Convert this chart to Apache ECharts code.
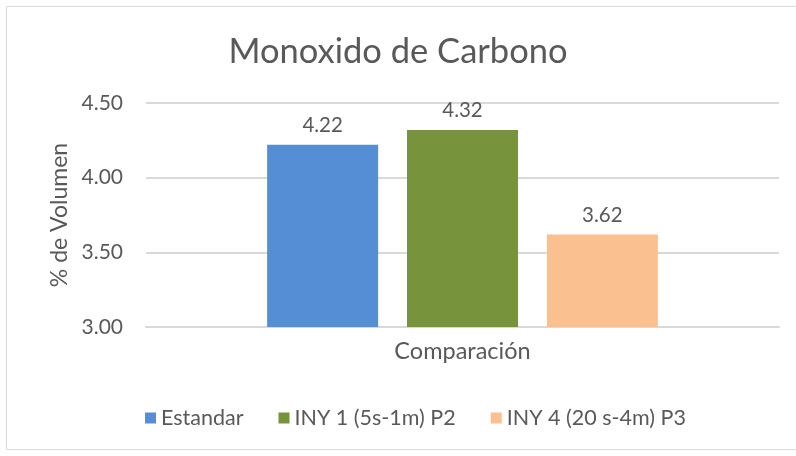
<!DOCTYPE html>
<html>
<head>
<meta charset="utf-8">
<script src="https://cdn.jsdelivr.net/npm/echarts@6/dist/echarts.min.js"></script>
<style>
html,body{margin:0;padding:0;background:#fff;}
#chart{width:796px;height:456px;}
</style>
</head>
<body>
<div id="chart"></div>
<script>
// Carbon monoxide readings (% volume) for each test condition
const categories = ['Comparación'];
const seriesNames = ['Estandar', 'INY 1 (5s-1m) P2', 'INY 4 (20 s-4m) P3'];
const estandar = [4.22];
const iny1 = [4.32];
const iny4 = [3.62];
const yTicks = { min: 3.0, max: 4.5, step: 0.5 };

const colors = ['#558ED5', '#77933C', '#FAC090'];
const FONT = 'Lato, "Open Sans", sans-serif';
const TXT = '#595959';

const chart = echarts.init(document.getElementById('chart'), null, { renderer: 'canvas' });

const valuesList = [estandar, iny1, iny4];
const series = seriesNames.map((name, i) => ({
  name,
  type: 'bar',
  data: valuesList[i],
  barWidth: 111,
  barGap: '26%',
  itemStyle: { color: colors[i] },
  label: {
    show: true,
    position: 'top',
    distance: 9,
    formatter: p => p.value.toFixed(2),
    color: TXT,
    fontFamily: FONT,
    fontSize: 20.5
  }
}));

chart.setOption({
  animation: false,
  backgroundColor: '#fff',
  title: {
    text: 'Monoxido de Carbono',
    left: 'center',
    top: 29,
    textStyle: { color: TXT, fontFamily: FONT, fontSize: 34.5, fontWeight: 'normal' }
  },
  graphic: [{
    type: 'rect',
    shape: { x: 6.5, y: 6.5, width: 800, height: 443 },
    style: { fill: 'none', stroke: '#d9d9d9', lineWidth: 1 },
    silent: true
  }],
  legend: {
    bottom: 22,
    left: 140,
    itemWidth: 11,
    itemHeight: 11,
    itemGap: 35,
    icon: 'rect',
    textStyle: { color: TXT, fontFamily: FONT, fontSize: 21.5 },
    data: seriesNames
  },
  grid: { left: 146, right: 17, top: 103, bottom: 129, containLabel: false },
  xAxis: {
    type: 'category',
    data: categories,
    axisLine: { show: true, lineStyle: { color: '#d9d9d9', width: 2 } },
    axisTick: { show: false },
    axisLabel: { color: TXT, fontFamily: FONT, fontSize: 23.5, margin: 12 }
  },
  yAxis: {
    type: 'value',
    min: yTicks.min,
    max: yTicks.max,
    interval: yTicks.step,
    name: '% de Volumen',
    nameLocation: 'middle',
    nameGap: 75,
    nameTextStyle: { color: TXT, fontFamily: FONT, fontSize: 23 },
    axisLine: { show: false },
    axisTick: { show: false },
    axisLabel: { color: TXT, fontFamily: FONT, fontSize: 21, margin: 23, formatter: v => v.toFixed(2) },
    splitLine: { lineStyle: { color: '#d9d9d9', width: 2 } }
  },
  series
});
</script>
</body>
</html>
